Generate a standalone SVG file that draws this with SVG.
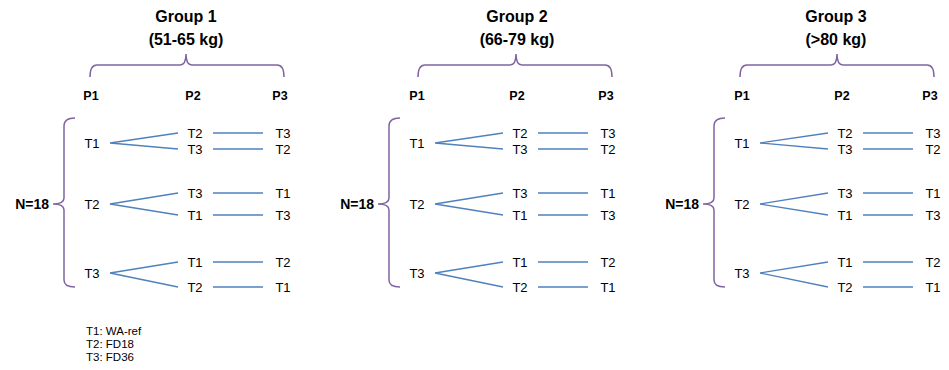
<svg xmlns="http://www.w3.org/2000/svg" width="949" height="370" viewBox="0 0 949 370">
  <style>
    text { font-family: "Liberation Sans", Arial, sans-serif; fill: #000; }
    .title { font-size: 16px; font-weight: bold; text-anchor: middle; }
    .period { font-size: 12.5px; font-weight: bold; text-anchor: middle; }
    .count { font-size: 14px; font-weight: bold; text-anchor: end; }
    .trt { font-size: 13px; text-anchor: middle; }
    .legend { font-size: 11.5px; }
    .brace { fill: none; stroke: #8064a2; stroke-width: 1.5; }
    .link { stroke: #4f81bd; stroke-width: 1.3; fill: none; }
  </style>
  <defs>
    <!-- left brace spanning the three sequences -->
    <path id="side-brace" class="brace" d="M75,118 Q64,118 64,126 L64,198 Q64,204 53,204 Q64,204 64,210 L64,280 Q64,287 75,287"/>
    <!-- sequence connectors: first period fans out, then straight to third period -->
    <g id="seq-links" class="link">
      <path d="M110,143 L178,133 M110,143 L178,149"/>
      <path d="M110,204 L178,193 M110,204 L178,215"/>
      <path d="M110,273 L178,262 M110,273 L178,287"/>
      <path d="M213,133 H263 M213,149 H263 M213,193 H263 M213,215 H263 M213,262 H263 M213,287 H263"/>
    </g>
  </defs>

  <!-- Group 1 -->
  <g id="group1">
    <g id="g1-title"><text class="title" x="186" y="22">Group 1</text><text class="title" x="186" y="45">(51-65 kg)</text></g>
    <path class="brace" d="M90,77 Q90,65 97,65 L180,65 Q186,65 186,54 Q186,65 192,65 L277,65 Q284,65 284,77"/>
    <g id="g1-p1"><text class="period" x="91" y="100">P1</text></g>
    <g id="g1-p2"><text class="period" x="193" y="100">P2</text></g>
    <g id="g1-p3"><text class="period" x="280" y="100">P3</text></g>
    <g id="g1-n"><text class="count" x="49" y="209">N=18</text></g>
    <use href="#side-brace"/>
    <g id="g1-a1"><text class="trt" x="92" y="148">T1</text></g>
    <g id="g1-a2"><text class="trt" x="92" y="209">T2</text></g>
    <g id="g1-a3"><text class="trt" x="92" y="278">T3</text></g>
    <g id="g1-b1"><text class="trt" x="195" y="138">T2</text></g>
    <g id="g1-b2"><text class="trt" x="195" y="154">T3</text></g>
    <g id="g1-b3"><text class="trt" x="195" y="198">T3</text></g>
    <g id="g1-b4"><text class="trt" x="195" y="220">T1</text></g>
    <g id="g1-b5"><text class="trt" x="195" y="267">T1</text></g>
    <g id="g1-b6"><text class="trt" x="195" y="292">T2</text></g>
    <g id="g1-c1"><text class="trt" x="283" y="138">T3</text></g>
    <g id="g1-c2"><text class="trt" x="283" y="154">T2</text></g>
    <g id="g1-c3"><text class="trt" x="283" y="198">T1</text></g>
    <g id="g1-c4"><text class="trt" x="283" y="220">T3</text></g>
    <g id="g1-c5"><text class="trt" x="283" y="267">T2</text></g>
    <g id="g1-c6"><text class="trt" x="283" y="292">T1</text></g>
  </g>

  <!-- Group 2 -->
  <g id="group2">
    <g id="g2-title"><text class="title" x="517" y="22">Group 2</text><text class="title" x="517" y="45">(66-79 kg)</text></g>
    <path class="brace" d="M418,77 Q418,65 425,65 L510,65 Q516,65 516,54 Q516,65 522,65 L605,65 Q612,65 612,77"/>
    <g id="g2-p1"><text class="period" x="417" y="100">P1</text></g>
    <g id="g2-p2"><text class="period" x="517" y="100">P2</text></g>
    <g id="g2-p3"><text class="period" x="606" y="100">P3</text></g>
    <g transform="translate(325,0)">
      <g id="g2-n"><text class="count" x="49" y="209">N=18</text></g>
      <use href="#side-brace"/>
      <g id="g2-a1"><text class="trt" x="92" y="148">T1</text></g>
      <g id="g2-a2"><text class="trt" x="92" y="209">T2</text></g>
      <g id="g2-a3"><text class="trt" x="92" y="278">T3</text></g>
      <g id="g2-b1"><text class="trt" x="195" y="138">T2</text></g>
      <g id="g2-b2"><text class="trt" x="195" y="154">T3</text></g>
      <g id="g2-b3"><text class="trt" x="195" y="198">T3</text></g>
      <g id="g2-b4"><text class="trt" x="195" y="220">T1</text></g>
      <g id="g2-b5"><text class="trt" x="195" y="267">T1</text></g>
      <g id="g2-b6"><text class="trt" x="195" y="292">T2</text></g>
      <g id="g2-c1"><text class="trt" x="283" y="138">T3</text></g>
      <g id="g2-c2"><text class="trt" x="283" y="154">T2</text></g>
      <g id="g2-c3"><text class="trt" x="283" y="198">T1</text></g>
      <g id="g2-c4"><text class="trt" x="283" y="220">T3</text></g>
      <g id="g2-c5"><text class="trt" x="283" y="267">T2</text></g>
      <g id="g2-c6"><text class="trt" x="283" y="292">T1</text></g>
    </g>
  </g>

  <!-- Group 3 -->
  <g id="group3">
    <g id="g3-title"><text class="title" x="836" y="22">Group 3</text><text class="title" x="836" y="45">(&gt;80 kg)</text></g>
    <path class="brace" d="M740,77 Q740,65 747,65 L831,65 Q837,65 837,54 Q837,65 843,65 L927,65 Q934,65 934,77"/>
    <g id="g3-p1"><text class="period" x="742" y="100">P1</text></g>
    <g id="g3-p2"><text class="period" x="842" y="100">P2</text></g>
    <g id="g3-p3"><text class="period" x="930" y="100">P3</text></g>
    <g transform="translate(650,0)">
      <g id="g3-n"><text class="count" x="49" y="209">N=18</text></g>
      <use href="#side-brace"/>
      <g id="g3-a1"><text class="trt" x="92" y="148">T1</text></g>
      <g id="g3-a2"><text class="trt" x="92" y="209">T2</text></g>
      <g id="g3-a3"><text class="trt" x="92" y="278">T3</text></g>
      <g id="g3-b1"><text class="trt" x="195" y="138">T2</text></g>
      <g id="g3-b2"><text class="trt" x="195" y="154">T3</text></g>
      <g id="g3-b3"><text class="trt" x="195" y="198">T3</text></g>
      <g id="g3-b4"><text class="trt" x="195" y="220">T1</text></g>
      <g id="g3-b5"><text class="trt" x="195" y="267">T1</text></g>
      <g id="g3-b6"><text class="trt" x="195" y="292">T2</text></g>
      <g id="g3-c1"><text class="trt" x="283" y="138">T3</text></g>
      <g id="g3-c2"><text class="trt" x="283" y="154">T2</text></g>
      <g id="g3-c3"><text class="trt" x="283" y="198">T1</text></g>
      <g id="g3-c4"><text class="trt" x="283" y="220">T3</text></g>
      <g id="g3-c5"><text class="trt" x="283" y="267">T2</text></g>
      <g id="g3-c6"><text class="trt" x="283" y="292">T1</text></g>
    </g>
  </g>

  <!-- connectors for all three groups -->
  <g id="connectors">
    <use href="#seq-links"/>
    <use href="#seq-links" transform="translate(325,0)"/>
    <use href="#seq-links" transform="translate(650,0)"/>
  </g>

  <!-- treatment key -->
  <g id="legend">
    <text class="legend" x="86" y="335">T1: WA-ref</text>
    <text class="legend" x="86" y="348">T2: FD18</text>
    <text class="legend" x="86" y="361">T3: FD36</text>
  </g>
</svg>
